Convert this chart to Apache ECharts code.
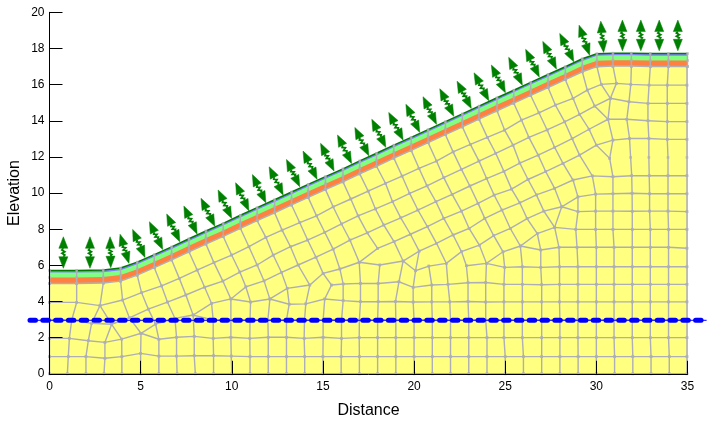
<!DOCTYPE html>
<html>
<head>
<meta charset="utf-8">
<title>Slope mesh</title>
<script src="https://cdn.jsdelivr.net/npm/echarts@6/dist/echarts.min.js"></script>
<style>
    html, body { margin: 0; padding: 0; background: #fff; }
    #chart { width: 718px; height: 424px; }
</style>
</head>
<body>
<div id="chart"></div>
<script>
'use strict';

/* ===== ground profile: bottom of the cover layers ===== */
var surfaceX = [0,1.49,2.95,3.9,4.81,5.75,6.7,7.65,8.58,9.53,10.47,11.39,12.35,13.28,14.19,15.14,16.1,17.02,17.94,18.89,19.84,20.77,21.72,22.65,23.56,24.55,25.47,26.4,27.35,28.3,29.23,30.03,30.91,31.92,32.96,33.95,35];
var soilY = [5,5,5.02,5.13,5.46,5.87,6.3,6.75,7.18,7.6,8.05,8.47,8.91,9.34,9.76,10.19,10.62,11.06,11.48,11.93,12.36,12.79,13.23,13.66,14.09,14.55,14.97,15.4,15.84,16.27,16.71,16.99,17.02,17.02,17,17,17];

// height of each layer top above soilY
var orangeBottom = 0.03;
var orangeTop = 0.33;
var greenTop = 0.6;
var purpleTop = 0.72;

/* ===== water table ===== */
var waterX = [-1.07, 36.05];
var waterY = [2.96, 2.96];

/* ===== flux arrows, tip above and tip below ===== */
var arrowTopX = [0.76,2.22,3.32,3.87,4.56,5.48,6.43,7.37,8.31,9.25,10.21,11.13,12.05,13,13.91,14.87,15.8,16.75,17.68,18.61,19.55,20.49,21.41,22.36,23.29,24.24,25.19,26.12,27.06,27.99,29.05,30.24,31.43,32.44,33.45,34.47];
var arrowTopY = [7.58,7.58,7.58,7.72,7.99,8.41,8.84,9.28,9.71,10.17,10.57,11.02,11.45,11.86,12.32,12.75,13.21,13.63,14.08,14.46,14.91,15.33,15.77,16.19,16.65,17.08,17.51,17.95,18.39,18.83,19.29,19.51,19.57,19.57,19.57,19.57];
var arrowBotX = [0.76,2.22,3.36,4.36,5.24,6.21,7.15,8.1,9.07,9.99,10.94,11.87,12.82,13.73,14.68,15.61,16.57,17.52,18.45,19.4,20.31,21.23,22.18,23.14,24.1,25.01,25.94,26.87,27.81,28.76,29.63,30.4,31.43,32.44,33.45,34.47];
var arrowBotY = [5.84,5.84,5.87,6.11,6.44,6.88,7.31,7.73,8.17,8.6,9.02,9.46,9.89,10.35,10.76,11.22,11.64,12.06,12.53,12.93,13.36,13.8,14.25,14.68,15.11,15.55,15.97,16.42,16.86,17.26,17.63,17.78,17.87,17.87,17.87,17.87];

/* ===== mesh lines running down from the surface ===== */
var meshCols = [
    [[0,5],[0,3.95],[0,2.98],[0,1.96],[0,0.95],[0,0]],
    [[1.49,5],[1.49,3.95],[1.22,2.98],[1.09,1.96],[1.03,0.95],[0.98,0]],
    [[2.95,5.02],[2.77,3.77],[2.31,2.79],[2.13,1.83],[2,0.95],[2,0]],
    [[2.77,3.77],[3.41,2.74],[3.04,1.74],[3.04,0.86],[2.99,0]],
    [[3.41,2.74],[3.96,1.92],[3.97,0.95],[3.97,0]],
    [[3.9,5.13],[4.01,4.08],[4.38,3.1],[5.02,2.24],[5,1.13],[5,0]],
    [[4.81,5.46],[5.05,4.49],[5.42,3.58],[5.82,2.75],[6,1.91],[6,0.98],[6,0]],
    [[5.75,5.87],[6.15,4.86],[6.47,3.97],[6.88,3.07],[6.97,2.02],[6.97,0.98],[7,0]],
    [[6.7,6.3],[7.12,5.28],[7.48,4.36],[7.88,3.25],[7.94,2.07],[7.94,1],[8,0]],
    [[7.65,6.75],[8.1,5.74],[8.51,4.79],[8.89,3.9],[8.98,2.98],[8.98,1.96],[9,1],[9,0]],
    [[8.58,7.18],[9.02,6.15],[9.51,5.13],[9.95,4.14],[9.95,2.98],[9.95,2.02],[9.97,0.98],[10,0]],
    [[9.53,7.6],[9.99,6.57],[10.44,5.63],[10.77,4.81],[11.03,3.97],[11,2.98],[10.99,1.96],[11,0.95],[11,0]],
    [[10.47,8.05],[10.94,7.03],[11.39,6.02],[11.77,5.14],[12.09,4.14],[11.98,2.98],[12,2.02],[12,0.95],[12,0]],
    [[11.39,8.47],[11.87,7.55],[12.27,6.57],[12.73,5.61],[13.04,4.73],[13.15,3.85],[13,2.98],[13,2.02],[13,0.95],[13,0]],
    [[12.35,8.91],[12.76,7.95],[13.22,7.03],[13.64,6.02],[14.28,4.91],[14.06,3.87],[13.99,2.98],[13.97,1.96],[14,0.95],[14,0]],
    [[13.28,9.34],[13.73,8.36],[14.16,7.4],[14.62,6.45],[15.01,5.56],[15.47,4.91],[15.1,4.14],[15.01,2.98],[15.01,2.02],[15,0.95],[15,0]],
    [[14.19,9.76],[14.65,8.74],[15.1,7.83],[15.56,6.9],[15.93,5.8],[16.11,4.97],[16.11,4.05],[16.02,2.98],[16.02,1.96],[16,0.95],[16,0]],
    [[15.14,10.19],[15.56,9.24],[16.02,8.29],[16.48,7.4],[16.99,6.17],[17.06,5],[17.06,3.99],[17,2.98],[16.99,2],[17,0.95],[17,0]],
    [[16.1,10.62],[16.53,9.67],[16.93,8.74],[17.43,7.8],[18,6.94]],
    [[18.12,6.02],[18.03,5],[18.03,3.99],[18,2.98],[18,2],[18,0.95],[18,0]],
    [[17.02,11.06],[17.48,10.11],[17.88,9.12],[18.34,8.23],[18.9,7.31],[19.4,6.24],[19.17,5.09],[18.98,4],[19,2.98],[19,2],[19,0.95],[19,0]],
    [[17.94,11.48],[18.43,10.54],[18.82,9.52],[19.27,8.63],[19.8,7.72],[20.28,6.79],[20.08,5.7],[19.95,4.78],[19.95,3.97],[20,2.98],[20,2],[20,0.95],[20,0]],
    [[20.81,5.96],[20.97,4.91],[20.97,3.98],[21,2.98],[21,2],[21,0.95],[21,0]],
    [[18.89,11.93],[19.34,10.94],[19.76,9.98],[20.21,9.06],[20.73,8.14],[21.23,7.22],[21.77,6.11],[21.86,4.95],[21.96,3.98],[22,2.98],[22,2],[22,0.95],[22,0]],
    [[19.84,12.36],[20.27,11.37],[20.71,10.4],[21.2,9.52],[21.63,8.6],[22.14,7.68],[22.6,6.76],[22.87,5.98],[22.96,5.04],[22.96,4],[23,2.98],[23,2],[23,0.95],[23,0]],
    [[20.77,12.79],[21.23,11.77],[21.63,10.85],[22.09,9.93],[22.6,9],[23.02,8.04],[23.58,7.12],[23.97,6.11],[23.93,5.05],[23.93,3.97],[23.93,2.98],[24,2],[24,0.95],[24,0]],
    [[21.72,13.23],[22.14,12.28],[22.6,11.31],[23.06,10.39],[23.51,9.43],[23.88,8.6],[24.37,7.64],[24.88,6.75],[24.97,5.89],[24.93,4.95],[24.93,3.98],[24.93,2.98],[24.93,2],[25,0.95],[25,0]],
    [[22.65,13.66],[23.09,12.69],[23.56,11.77],[23.98,10.8],[24.39,9.89],[24.82,9.06],[25.28,8.04],[25.83,7.07],[25.94,5.92],[25.94,4.95],[25.94,3.98],[25.94,2.98],[25.94,2],[26,0.95],[26,0]],
    [[23.56,14.09],[24.02,13.08],[24.48,12.2],[24.93,11.2],[25.35,10.22],[25.8,9.46],[26.2,8.59],[26.76,7.76],[26.95,6.85],[26.95,5.89],[27,4.93],[27,3.98],[27,2.98],[27,2],[27,0.95],[27,0]],
    [[24.55,14.55],[24.97,13.48],[25.43,12.65],[25.8,11.66],[26.25,10.75],[26.71,9.9],[27.12,9],[27.71,8.1],[27.95,7],[27.98,5.92],[27.98,4.95],[27.98,3.98],[28,2.98],[28,2],[28,0.95],[28,0]],
    [[25.47,14.97],[25.89,14.04],[26.3,13.08],[26.81,12.1],[27.22,11.19],[27.71,10.26],[28.1,9.24],[27.71,8.1]],
    [[26.4,15.4],[26.85,14.44],[27.3,13.49],[27.71,12.53],[28.17,11.64],[28.72,10.72],[28.99,9.79],[28.99,8.97],[28.87,7.99],[28.94,7],[28.99,5.92],[28.99,4.95],[28.99,3.98],[28.99,2.98],[28.99,2],[29,0.95],[29,0]],
    [[27.35,15.84],[27.75,14.87],[28.26,13.94],[28.67,13.01],[29.08,12.1],[29.78,10.95],[29.96,9.94],[29.96,9],[29.96,7.99],[30,7],[30,5.92],[30,4.95],[30,3.98],[30,2.98],[30,2],[30,0.95],[30,0]],
    [[28.3,16.27],[28.72,15.24],[29.08,14.35],[29.6,13.53],[30,12.65],[30.73,11.92],[30.91,10.9],[30.91,9.96],[30.91,9],[30.91,7.99],[30.97,7],[30.97,5.92],[30.97,4.95],[30.97,3.98],[30.97,2.98],[30.97,2],[31,0.95],[31,0]],
    [[29.23,16.71],[29.5,15.7],[29.91,14.81],[30.64,14.08]],
    [[30.03,16.99],[30.27,16.01],[30.77,15.24],[30.64,14.08],[30.91,12.93],[30.73,11.92]],
    [[30.91,17.02],[31.1,16.07],[30.77,15.24]],
    [[31.92,17.02],[31.89,16.01],[31.79,15.05],[31.67,14.08],[31.82,13.02],[31.88,11.97],[31.94,10.96],[31.96,9.99],[31.97,8.99],[31.97,7.99],[31.97,7],[31.97,5.92],[31.97,4.95],[31.97,3.98],[31.97,2.98],[31.97,2],[32,0.95],[32,0]],
    [[32.96,17],[32.89,15.97],[32.83,14.96],[32.83,14],[32.88,13.02],[32.88,11.97],[32.9,10.96],[32.92,9.96],[32.92,9],[32.96,7.99],[32.96,7],[32.96,5.92],[32.96,4.95],[32.96,3.98],[32.96,2.98],[32.96,2],[33,0.95],[33,0]],
    [[33.95,17],[33.89,15.97],[33.89,14.96],[33.89,13.95],[33.89,12.97],[33.93,11.97],[33.93,10.96],[33.93,9.96],[33.93,9],[33.96,7.99],[33.96,7],[33.96,5.92],[33.96,4.95],[33.96,3.98],[33.96,2.98],[33.96,2],[34,0.95],[34,0]],
    [[34.97,17],[34.97,15.97],[34.97,14.96],[34.97,13.95],[34.97,12.97],[34.97,11.97],[34.97,10.96],[34.97,9.96],[34.97,8.97],[34.97,7.99],[34.97,6.95],[34.97,5.92],[34.97,4.95],[34.97,3.98],[34.97,2.98],[34.97,2],[34.97,0.95],[34.97,0]]
];

/* ===== mesh lines running along the slope and across the block ===== */
var meshRows = [
    [[0,3.95],[1.49,3.95],[2.77,3.77],[4.01,4.08],[5.05,4.49],[6.15,4.86],[7.12,5.28],[8.1,5.74],[9.02,6.15],[9.99,6.57],[10.94,7.03],[11.87,7.55],[12.76,7.95],[13.73,8.36],[14.65,8.74],[15.56,9.24],[16.53,9.67],[17.48,10.11],[18.43,10.54],[19.34,10.94],[20.27,11.37],[21.23,11.77],[22.14,12.28],[23.09,12.69],[24.02,13.08],[24.97,13.48],[25.89,14.04],[26.85,14.44],[27.75,14.87],[28.72,15.24],[29.5,15.7],[30.27,16.01],[31.1,16.07],[31.89,16.01],[32.89,15.97],[33.89,15.97],[34.97,15.97]],
    [[0,2.98],[1.22,2.98],[2.31,2.79],[3.41,2.74],[4.38,3.1],[5.42,3.58],[6.47,3.97],[7.48,4.36],[8.51,4.79],[9.51,5.13],[10.44,5.63],[11.39,6.02],[12.27,6.57],[13.22,7.03],[14.16,7.4],[15.1,7.83],[16.02,8.29],[16.93,8.74],[17.88,9.12],[18.82,9.52],[19.76,9.98],[20.71,10.4],[21.63,10.85],[22.6,11.31],[23.56,11.77],[24.48,12.2],[25.43,12.65],[26.3,13.08],[27.3,13.49],[28.26,13.94],[29.08,14.35],[29.91,14.81],[30.77,15.24],[31.79,15.05],[32.83,14.96],[33.89,14.96],[34.97,14.96]],
    [[5.02,2.24],[5.82,2.75],[6.88,3.07],[7.88,3.25],[8.89,3.9],[9.95,4.14],[10.77,4.81],[11.77,5.14],[12.73,5.61],[13.64,6.02],[14.62,6.45],[15.56,6.9],[16.48,7.4],[17.43,7.8],[18.34,8.23],[19.27,8.63],[20.21,9.06],[21.2,9.52],[22.09,9.93],[23.06,10.39],[23.98,10.8],[24.93,11.2],[25.8,11.66],[26.81,12.1],[27.71,12.53],[28.67,13.01],[29.6,13.53],[30.64,14.08],[31.67,14.08],[32.83,14],[33.89,13.95],[34.97,13.95]],
    [[12.09,4.14],[13.04,4.73],[14.28,4.91],[15.01,5.56],[15.93,5.8],[16.99,6.17],[18,6.94],[18.9,7.31],[19.8,7.72],[20.73,8.14],[21.63,8.6],[22.6,9],[23.51,9.43],[24.39,9.89],[25.35,10.22],[26.25,10.75],[27.22,11.19],[28.17,11.64],[29.08,12.1],[30,12.65],[30.91,12.93],[31.82,13.02],[32.88,13.02],[33.89,12.97],[34.97,12.97]],
    [[16.99,6.17],[18.12,6.02],[19.4,6.24],[20.28,6.79],[21.23,7.22],[22.14,7.68],[23.02,8.04],[23.88,8.6],[24.82,9.06],[25.8,9.46],[26.71,9.9],[27.71,10.26],[28.72,10.72],[29.78,10.95],[30.91,10.9],[31.94,10.96],[32.9,10.96],[33.93,10.96],[34.97,10.96]],
    [[19.4,6.24],[20.08,5.7],[20.81,5.96],[21.77,6.11],[22.6,6.76],[23.58,7.12],[24.37,7.64],[25.28,8.04],[26.2,8.59],[27.12,9],[28.1,9.24],[28.99,9.79],[29.96,9.94],[30.91,9.96],[31.96,9.99],[32.92,9.96],[33.93,9.96],[34.97,9.96]],
    [[22.87,5.98],[23.97,6.11],[24.88,6.75],[25.83,7.07],[26.76,7.76],[27.71,8.1],[28.87,7.99],[29.96,7.99],[30.91,7.99],[31.97,7.99],[32.96,7.99],[33.96,7.99],[34.97,7.99]],
    [[28.1,9.24],[28.99,8.97],[29.96,9],[30.91,9],[31.97,8.99],[32.92,9],[33.93,9],[34.97,8.97]],
    [[25.83,7.07],[26.95,6.85],[27.95,7],[28.94,7],[30,7],[30.97,7],[31.97,7],[32.96,7],[33.96,7],[34.97,6.95]],
    [[23.97,6.11],[24.97,5.89],[25.94,5.92],[26.95,5.89],[27.98,5.92],[28.99,5.92],[30,5.92],[30.97,5.92],[31.97,5.92],[32.96,5.92],[33.96,5.92],[34.97,5.92]],
    [[15.47,4.91],[16.11,4.97],[17.06,5],[18.03,5],[19.17,5.09],[19.95,4.78],[20.97,4.91],[21.86,4.95],[22.96,5.04],[23.93,5.05],[24.93,4.95],[25.94,4.95],[27,4.93],[27.98,4.95],[28.99,4.95],[30,4.95],[30.97,4.95],[31.97,4.95],[32.96,4.95],[33.96,4.95],[34.97,4.95]],
    [[9.95,4.14],[11.03,3.97],[12.09,4.14],[13.15,3.85],[14.06,3.87],[15.1,4.14],[16.11,4.05],[17.06,3.99],[18.03,3.99],[18.98,4],[19.95,3.97],[20.97,3.98],[21.96,3.98],[22.96,4],[23.93,3.97],[24.93,3.98],[25.94,3.98],[27,3.98],[27.98,3.98],[28.99,3.98],[30,3.98],[30.97,3.98],[31.97,3.98],[32.96,3.98],[33.96,3.98],[34.97,3.98]],
    [[7.88,3.25],[8.98,2.98],[9.95,2.98],[11,2.98],[11.98,2.98],[13,2.98],[13.99,2.98],[15.01,2.98],[16.02,2.98],[17,2.98],[18,2.98],[19,2.98],[20,2.98],[21,2.98],[22,2.98],[23,2.98],[23.93,2.98],[24.93,2.98],[25.94,2.98],[27,2.98],[28,2.98],[28.99,2.98],[30,2.98],[30.97,2.98],[31.97,2.98],[32.96,2.98],[33.96,2.98],[34.97,2.98]],
    [[0,1.96],[1.09,1.96],[2.13,1.83],[3.04,1.74],[3.96,1.92],[5.02,2.24],[6,1.91],[6.97,2.02],[7.94,2.07],[8.98,1.96],[9.95,2.02],[10.99,1.96],[12,2.02],[13,2.02],[13.97,1.96],[15.01,2.02],[16.02,1.96],[16.99,2],[18,2],[19,2],[20,2],[21,2],[22,2],[23,2],[24,2],[24.93,2],[25.94,2],[27,2],[28,2],[28.99,2],[30,2],[30.97,2],[31.97,2],[32.96,2],[33.96,2],[34.97,2]],
    [[0,0.95],[1.03,0.95],[2,0.95],[3.04,0.86],[3.97,0.95],[5,1.13],[6,0.98],[6.97,0.98],[7.94,1],[9,1],[9.97,0.98],[11,0.95],[12,0.95],[13,0.95],[14,0.95],[15,0.95],[16,0.95],[17,0.95],[18,0.95],[19,0.95],[20,0.95],[21,0.95],[22,0.95],[23,0.95],[24,0.95],[25,0.95],[26,0.95],[27,0.95],[28,0.95],[29,0.95],[30,0.95],[31,0.95],[32,0.95],[33,0.95],[34,0.95],[34.97,0.95]],
    [[0,0],[0.98,0],[2,0],[2.99,0],[3.97,0],[5,0],[6,0],[7,0],[8,0],[9,0],[10,0],[11,0],[12,0],[13,0],[14,0],[15,0],[16,0],[17,0],[18,0],[19,0],[20,0],[21,0],[22,0],[23,0],[24,0],[25,0],[26,0],[27,0],[28,0],[29,0],[30,0],[31,0],[32,0],[33,0],[34,0],[34.97,0]]
];

var MESH_COLOR = '#aeaeb6';
var FONT = 'Liberation Sans';

// profile raised by a layer height, for the filled bands
function layerLine(height) {
    return surfaceX.map(function (x, i) {
        return [x, soilY[i] + height];
    });
}

function bandSeries(height, fill, lineColor, lineWidth, z) {
    return {
        type: 'line',
        data: layerLine(height),
        symbol: 'none',
        silent: true,
        z: z,
        lineStyle: { color: lineColor, width: lineWidth },
        areaStyle: { color: fill, opacity: 1 }
    };
}

// the surface row and the short verticals through the cover layers
var surfaceRow = layerLine(0);
var coverCols = surfaceX.map(function (x, i) {
    return [[x, soilY[i]], [x, soilY[i] + orangeTop], [x, soilY[i] + purpleTop]];
});

var allLines = meshCols.concat(meshRows).concat([surfaceRow]).concat(coverCols);

var meshNodes = [];
allLines.forEach(function (line) {
    line.forEach(function (p) {
        meshNodes.push(p);
    });
});

var arrowData = arrowTopX.map(function (x, i) {
    return [x, arrowTopY[i], arrowBotX[i], arrowBotY[i]];
});

// double headed arrow with a small zigzag between the heads
function renderArrow(params, api) {
    var a = api.coord([api.value(0), api.value(1)]);
    var b = api.coord([api.value(2), api.value(3)]);
    var dx = b[0] - a[0];
    var dy = b[1] - a[1];
    var len = Math.sqrt(dx * dx + dy * dy);
    var ux = dx / len, uy = dy / len;
    var nx = -uy, ny = ux;
    var headLen = 11.5, headHalf = 4.5;

    function at(s, n) {
        return [a[0] + ux * s + nx * n, a[1] + uy * s + ny * n];
    }
    var style = { fill: '#008000', stroke: '#008000', lineWidth: 0.5 };
    var mid = len - 2 * headLen;
    var zig = [at(headLen, 0), at(headLen + mid * 0.2, 1.4), at(headLen + mid * 0.4, -1.4),
        at(headLen + mid * 0.6, 1.4), at(headLen + mid * 0.8, -1.4), at(len - headLen, 0)];

    return {
        type: 'group',
        children: [
            { type: 'polygon', shape: { points: [at(0, 0), at(headLen, headHalf), at(headLen, -headHalf)] }, style: style },
            { type: 'polygon', shape: { points: [at(len, 0), at(len - headLen, headHalf), at(len - headLen, -headHalf)] }, style: style },
            { type: 'polyline', shape: { points: zig }, style: { fill: null, stroke: '#008000', lineWidth: 1.8 } }
        ]
    };
}

// water table runs past both ends of the axis, so it is drawn without clamping
function renderWater(params, api) {
    var a = api.coord([api.value(0), api.value(1)]);
    var b = api.coord([api.value(2), api.value(3)]);
    var shape = { x1: a[0], y1: a[1], x2: b[0], y2: b[1] };
    return {
        type: 'group',
        children: [
            { type: 'line', shape: shape, style: { stroke: '#0000ff', lineWidth: 1 } },
            { type: 'line', shape: shape, style: { stroke: '#0000ff', lineWidth: 5, lineDash: [5.5, 7.3], lineCap: 'round' } }
        ]
    };
}

var chart = echarts.init(document.getElementById('chart'), null, { renderer: 'canvas' });

var axisCommon = {
    type: 'value',
    nameLocation: 'middle',
    nameMoveOverlap: false,
    nameTextStyle: { fontFamily: FONT, fontSize: 16, color: '#000' },
    splitLine: { show: false },
    axisLine: { show: true, onZero: false, lineStyle: { color: '#000', width: 1 } },
    axisTick: { show: true, inside: true, length: 13, lineStyle: { color: '#000', width: 1 } },
    axisLabel: { fontFamily: FONT, fontSize: 12, color: '#000' },
    z: 10
};

chart.setOption({
    animation: false,
    backgroundColor: '#fff',
    grid: { left: 49.5, right: 30.5, top: 12.3, bottom: 50.2, outerBoundsMode: 'none' },
    xAxis: Object.assign({}, axisCommon, {
        min: 0, max: 35, interval: 5,
        name: 'Distance', nameGap: 29,
        axisLabel: Object.assign({}, axisCommon.axisLabel, { margin: 7 })
    }),
    yAxis: Object.assign({}, axisCommon, {
        min: 0, max: 20, interval: 2,
        name: 'Elevation', nameGap: 27,
        axisLabel: Object.assign({}, axisCommon.axisLabel, { margin: 5 })
    }),
    series: [
        bandSeries(purpleTop, '#8080ff', '#007a00', 1.5, 2),
        bandSeries(greenTop, '#80ff80', '#80ff80', 0, 3),
        bandSeries(orangeTop, '#ff8040', '#ff8040', 0, 4),
        bandSeries(orangeBottom, '#b8b8a0', '#b8b8a0', 0, 5),
        bandSeries(0, '#ffff80', MESH_COLOR, 0, 6),
        {
            type: 'lines',
            coordinateSystem: 'cartesian2d',
            polyline: true,
            silent: true,
            z: 7,
            lineStyle: { color: MESH_COLOR, width: 1.4, opacity: 1, curveness: 0 },
            data: allLines.map(function (line) {
                return { coords: line };
            })
        },
        {
            type: 'scatter',
            data: meshNodes,
            symbol: 'rect',
            symbolSize: 2.6,
            silent: true,
            clip: false,
            z: 8,
            itemStyle: { color: MESH_COLOR }
        },
        {
            type: 'custom',
            data: arrowData,
            renderItem: renderArrow,
            encode: { x: [0, 2], y: [1, 3] },
            silent: true,
            clip: false,
            z: 9
        },
        {
            type: 'custom',
            data: [[waterX[0], waterY[0], waterX[1], waterY[1]]],
            renderItem: renderWater,
            encode: { x: [0, 2], y: [1, 3] },
            silent: true,
            clip: false,
            z: 11
        }
    ]
});
</script>
</body>
</html>
